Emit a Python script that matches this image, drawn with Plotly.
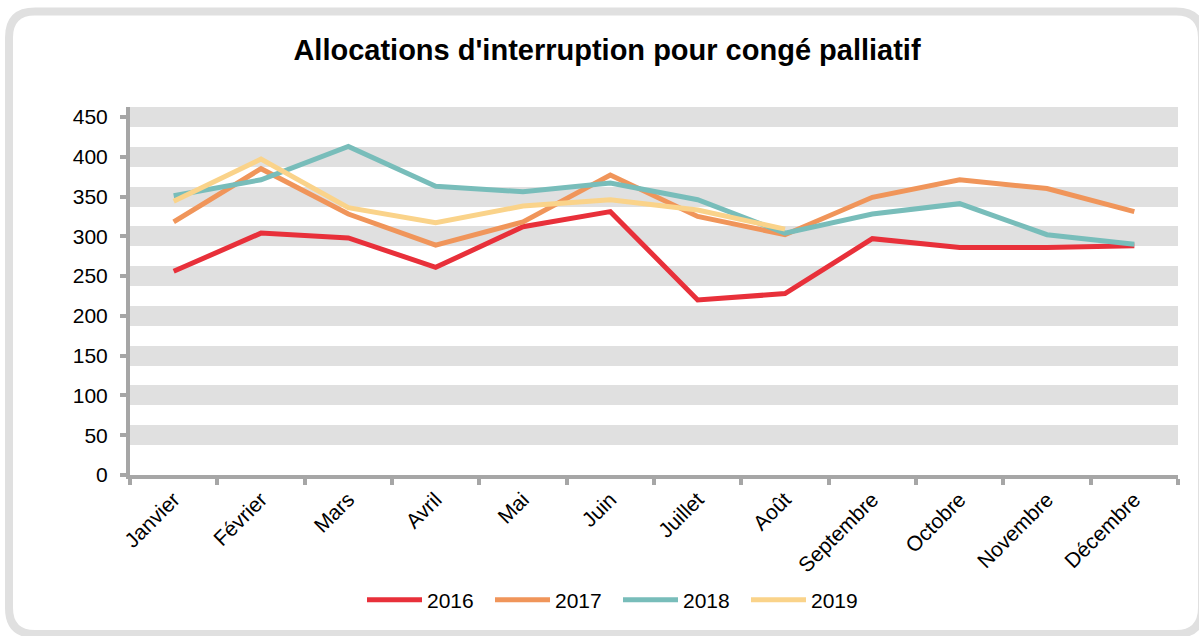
import plotly.graph_objects as go

months = ["Janvier", "Février", "Mars", "Avril", "Mai", "Juin", "Juillet",
          "Août", "Septembre", "Octobre", "Novembre", "Décembre"]
y2016 = [256, 304, 298, 261, 312, 331, 220, 228, 297, 286, 286, 288]
y2017 = [318, 385, 328, 289, 318, 377, 325, 302, 349, 371, 360, 331]
y2018 = [351, 371, 413, 363, 356, 367, 346, 304, 328, 341, 302, 290]
y2019 = [344, 397, 336, 317, 338, 346, 333, 309]
series = [("2016", y2016, "#E8303A"), ("2017", y2017, "#F0955A"),
          ("2018", y2018, "#78BDBA"), ("2019", y2019, "#FAD38A")]
yticks = [0, 50, 100, 150, 200, 250, 300, 350, 400, 450]

W, H = 1199, 636
ML, MR, MT, MB = 130, 21, 107, 161
PW, PH = W - ML - MR, H - MT - MB

fig = go.Figure()
for name, vals, col in series:
    fig.add_trace(go.Scatter(x=months[:len(vals)], y=vals, name=name, mode="lines",
                             line=dict(color=col, width=5)))

def px2p(x, y):
    return ((x - ML) / PW, (H - MB - y) / PH)

def rounded_path(x0, y0, x1, y1, r):
    pts = [("M", [(x0 + r, y0)]), ("L", [(x1 - r, y0)]), ("Q", [(x1, y0), (x1, y0 + r)]),
           ("L", [(x1, y1 - r)]), ("Q", [(x1, y1), (x1 - r, y1)]), ("L", [(x0 + r, y1)]),
           ("Q", [(x0, y1), (x0, y1 - r)]), ("L", [(x0, y0 + r)]), ("Q", [(x0, y0), (x0 + r, y0)])]
    s = ""
    for cmd, ps in pts:
        s += cmd + " " + " ".join("%.5f,%.5f" % px2p(a, b) for a, b in ps) + " "
    return s + "Z"

fig.add_shape(type="path", xref="paper", yref="paper", path=rounded_path(9, 11.5, 1202, 634, 26),
              line=dict(color="#E0E0E0", width=8), layer="below")

fig.update_layout(
    width=W, height=H,
    margin=dict(l=ML, r=MR, t=MT, b=MB, autoexpand=False),
    paper_bgcolor="white", plot_bgcolor="white",
    font=dict(family="Liberation Sans, Arial, sans-serif", color="#000000", size=21),
    title=dict(text="<b>Allocations d'interruption pour congé palliatif</b>",
               x=607 / W, xanchor="center", y=1 - 50 / H, yanchor="middle",
               font=dict(size=29, color="#000000")),
    legend=dict(orientation="h", x=618 / W, xanchor="center", xref="container",
                y=1 - 600 / H, yref="container", yanchor="middle",
                font=dict(size=21), itemwidth=55, entrywidth=58, entrywidthmode="pixels",
                traceorder="normal"),
    xaxis=dict(showgrid=False, showline=True, linecolor="#A6A6A6", linewidth=4,
               ticks="outside", tickson="boundaries", ticklen=6, tickwidth=4,
               tickcolor="#A6A6A6", tickangle=-45, tickfont=dict(size=21),
               range=[-0.5, 11.5]),
    yaxis=dict(range=[0, 462.5], tickvals=yticks, showgrid=True, gridcolor="#E0E0E0",
               gridwidth=20, zeroline=False, showline=True, linecolor="#A6A6A6",
               linewidth=4, ticks="outside", ticklen=6, tickwidth=4, tickcolor="#A6A6A6",
               tickfont=dict(size=21), ticklabelstandoff=8),
)
fig.write_html("out.html", config={"displayModeBar": False},
               post_script="document.body.style.margin='0';document.body.style.overflow='hidden';")
